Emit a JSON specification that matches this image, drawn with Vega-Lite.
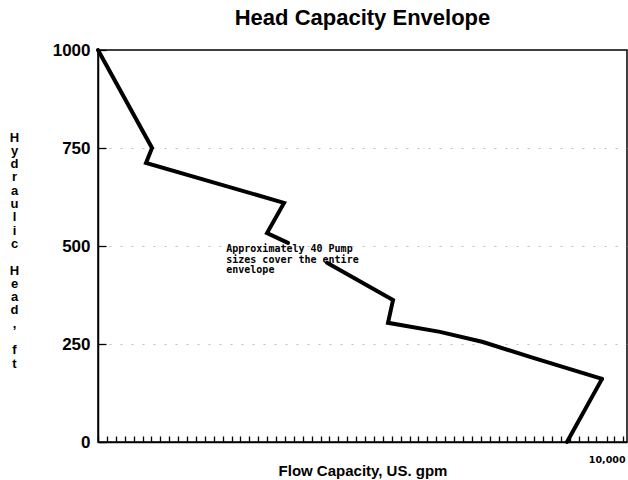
{
  "$schema": "https://vega.github.io/schema/vega-lite/v6.json",
  "width": 529,
  "height": 392,
  "autosize": {"type": "none"},
  "padding": {"left": 98, "top": 50, "right": 1, "bottom": 38},
  "background": "white",
  "title": {
    "text": "Head Capacity Envelope",
    "font": "Liberation Sans",
    "fontSize": 22,
    "fontWeight": "bold",
    "color": "black",
    "anchor": "middle",
    "offset": 11
  },
  "config": {
    "view": {"stroke": "black", "strokeWidth": 1.5},
    "axis": {"domainColor": "black", "tickColor": "black", "labelColor": "black", "titleColor": "black"}
  },
  "datasets": {
    "envelope": [
      {"i": 1, "seg": "a", "flow": 0, "head": 1000},
      {"i": 2, "seg": "a", "flow": 1062, "head": 750},
      {"i": 3, "seg": "a", "flow": 944, "head": 712},
      {"i": 4, "seg": "a", "flow": 3657, "head": 610},
      {"i": 5, "seg": "a", "flow": 3323, "head": 533},
      {"i": 6, "seg": "a", "flow": 3735, "head": 508},
      {"i": 7, "seg": "b", "flow": 4502, "head": 457},
      {"i": 8, "seg": "b", "flow": 5800, "head": 362},
      {"i": 9, "seg": "b", "flow": 5701, "head": 304},
      {"i": 10, "seg": "b", "flow": 6724, "head": 281},
      {"i": 11, "seg": "b", "flow": 7569, "head": 255},
      {"i": 12, "seg": "b", "flow": 8493, "head": 217},
      {"i": 13, "seg": "b", "flow": 9909, "head": 161},
      {"i": 14, "seg": "c", "flow": 9909, "head": 161},
      {"i": 15, "seg": "c", "flow": 9220, "head": 0}
    ],
    "notes": [
      {"flow": 2521, "head": 505, "note": "Approximately 40 Pump\nsizes cover the entire\nenvelope"}
    ]
  },
  "encoding": {
    "x": {
      "field": "flow",
      "type": "quantitative",
      "scale": {"domain": [0, 10400], "nice": false, "zero": true},
      "axis": {
        "values": [0,175,350,525,700,875,1050,1225,1400,1575,1750,1925,2100,2275,2450,2625,2800,2975,3150,3325,3500,3675,3850,4025,4200,4375,4550,4725,4900,5075,5250,5425,5600,5775,5950,6125,6300,6475,6650,6825,7000,7175,7350,7525,7700,7875,8050,8225,8400,8575,8750,8925,9100,9275,9450,9625,9800,10000,10150,10325],
        "labelExpr": "datum.value == 10000 ? '10,000' : ''",
        "labelOverlap": false,
        "labelFlush": false,
        "labelBound": false,
        "tickSize": -6,
        "tickWidth": 1.3,
        "domainWidth": 1.5,
        "grid": false,
        "labelFont": "DejaVu Sans",
        "labelFontWeight": "bold",
        "labelFontSize": 9.5,
        "labelPadding": 18,
        "title": "Flow Capacity, US. gpm",
        "titleFont": "Liberation Sans",
        "titleFontSize": 15,
        "titleFontWeight": "bold",
        "titleY": 33,
        "titleBaseline": "alphabetic"
      }
    },
    "y": {
      "field": "head",
      "type": "quantitative",
      "scale": {"domain": [0, 1000], "nice": false},
      "axis": {
        "values": [0, 250, 500, 750, 1000],
        "format": "d",
        "tickSize": -8,
        "tickWidth": 1.3,
        "domainWidth": 1.5,
        "labelPadding": 16,
        "labelFont": "Liberation Sans",
        "labelFontWeight": "bold",
        "labelFontSize": 17,
        "grid": true,
        "gridColor": "#999999",
        "gridWidth": 0.8,
        "gridDash": [2, 9],
        "gridOpacity": {"condition": {"test": "datum.value == 0 || datum.value == 1000", "value": 0}, "value": 0.8},
        "title": ["H","y","d","r","a","u","l","i","c","\u2800","H","e","a","d",",","\u2800","f","t"],
        "titleAngle": 0,
        "titleX": -84,
        "titleY": 81,
        "titleAlign": "center",
        "titleBaseline": "top",
        "titleLineHeight": 13.3,
        "titleFont": "Liberation Sans",
        "titleFontSize": 13,
        "titleFontWeight": "bold"
      }
    }
  },
  "layer": [
    {
      "data": {"name": "envelope"},
      "mark": {"type": "line", "color": "black", "strokeJoin": "miter", "strokeCap": "round"},
      "encoding": {
        "order": {"field": "i", "type": "quantitative"},
        "detail": {"field": "seg", "type": "nominal"},
        "strokeWidth": {
          "field": "seg",
          "type": "nominal",
          "scale": {"domain": ["a", "b", "c"], "range": [4, 4, 2.2]},
          "legend": null
        }
      }
    },
    {
      "data": {"name": "notes"},
      "mark": {
        "type": "text",
        "align": "left",
        "baseline": "top",
        "lineBreak": "\n",
        "lineHeight": 10.5,
        "font": "DejaVu Sans Mono",
        "fontWeight": "bold",
        "fontSize": 10,
        "color": "black"
      },
      "encoding": {
        "text": {"field": "note", "type": "nominal"}
      }
    }
  ]
}
